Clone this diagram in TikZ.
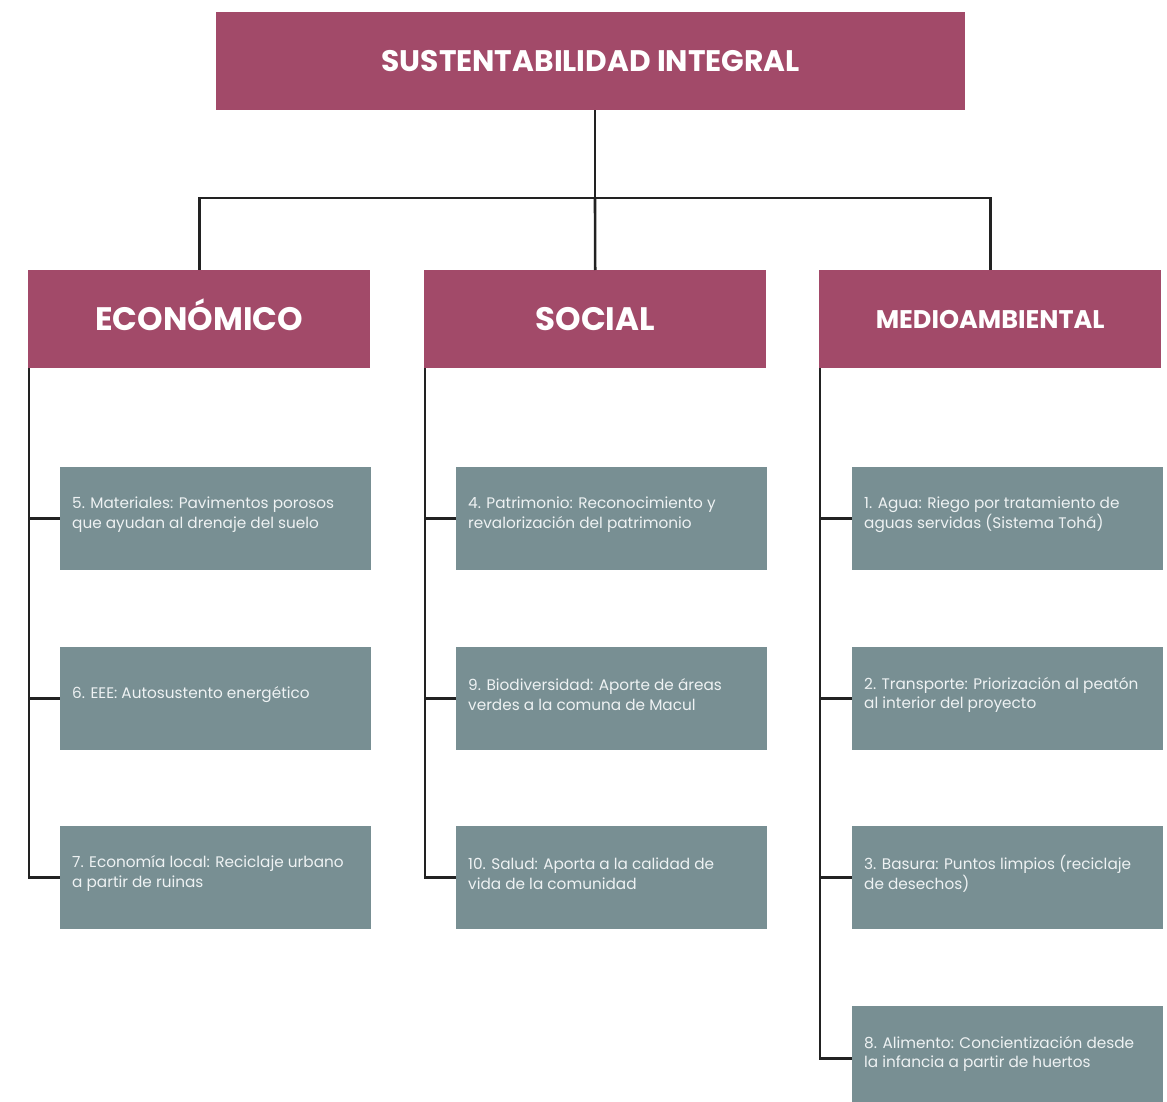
\documentclass[tikz,border=0pt]{standalone}
\usepackage{fontspec}
\setmainfont{Poppins}
\definecolor{rose}{HTML}{A24A69}
\definecolor{slate}{HTML}{788F93}
\definecolor{ink}{HTML}{222222}
\definecolor{itemtext}{HTML}{EEF2F3}
\begin{document}
\begin{tikzpicture}[x=1pt,y=-1pt,
  head/.style={fill=rose,draw=none,inner sep=0pt,text=white,text depth=0pt,minimum height=98pt,anchor=north west},
  item/.style={fill=slate,draw=none,inner sep=0pt,minimum width=311pt,minimum height=103pt,anchor=north west},
  itemtxt/.style={anchor=west,text=itemtext,font=\fontsize{15.3}{19.5}\selectfont,align=left,inner sep=0pt},
  conn/.style={draw=ink,line width=2.6pt}]
\useasboundingbox (0,0) rectangle (1167,1102);
% title
\node[head,minimum width=749pt,text height=20.8pt,font=\bfseries\fontsize{29.7}{32}\selectfont] (top) at (216,12) {SUSTENTABILIDAD INTEGRAL};
% categories
\node[head,minimum width=342pt,text height=22.8pt,font=\bfseries\fontsize{32.5}{34}\selectfont] (eco) at (28,270) {ECONÓMICO};
\node[head,minimum width=342pt,text height=22.8pt,font=\bfseries\fontsize{32.5}{34}\selectfont] (soc) at (424,270) {SOCIAL};
\node[head,minimum width=342pt,text height=17.9pt,font=\bfseries\fontsize{25.5}{28}\selectfont] (med) at (819,270) {MEDIOAMBIENTAL};
% bus
\coordinate (bus) at (595,198);
\draw[conn] (top.south -| bus) -- (bus);
\draw[conn] (bus) -- (bus -| eco.north) -- (eco.north);
\draw[conn] (bus) -- (soc.north);
\draw[conn] (bus) -- (bus -| med.north) -- (med.north);
% items
\newcommand{\itembox}[4]{%
  \node[item] (#1) at (#2,#3) {};
  \node[itemtxt] (#1t) at ([xshift=12pt,yshift=4pt]#1.west) {#4};}
\itembox{e1}{60}{467}{5. Materiales: Pavimentos porosos\\que ayudan al drenaje del suelo}
\itembox{e2}{60}{647}{6. EEE: Autosustento energético}
\itembox{e3}{60}{826}{7. Economía local: Reciclaje urbano\\a partir de ruinas}
\itembox{s1}{456}{467}{4. Patrimonio: Reconocimiento y\\revalorización del patrimonio}
\itembox{s2}{456}{647}{9. Biodiversidad: Aporte de áreas\\verdes a la comuna de Macul}
\itembox{s3}{456}{826}{10. Salud: Aporta a la calidad de\\vida de la comunidad}
\itembox{m1}{852}{467}{1. Agua: Riego por tratamiento de\\aguas servidas (Sistema Tohá)}
\itembox{m2}{852}{647}{2. Transporte: Priorización al peatón\\al interior del proyecto}
\itembox{m3}{852}{826}{3. Basura: Puntos limpios (reciclaje\\de desechos)}
\itembox{m4}{852}{1006}{8. Alimento: Concientización desde\\la infancia a partir de huertos}
% trees
\draw[conn] (eco.south west) ++(1,0) coordinate (ea) |- (e3.west);
\draw[conn] (e1.west -| ea) -- (e1.west);
\draw[conn] (e2.west -| ea) -- (e2.west);
\draw[conn] (soc.south west) ++(1,0) coordinate (sa) |- (s3.west);
\draw[conn] (s1.west -| sa) -- (s1.west);
\draw[conn] (s2.west -| sa) -- (s2.west);
\draw[conn] (med.south west) ++(1,0) coordinate (ma) |- ([yshift=-1pt]m4.west);
\draw[conn] (m1.west -| ma) -- (m1.west);
\draw[conn] (m2.west -| ma) -- (m2.west);
\draw[conn] (m3.west -| ma) -- (m3.west);
\end{tikzpicture}
\end{document}
